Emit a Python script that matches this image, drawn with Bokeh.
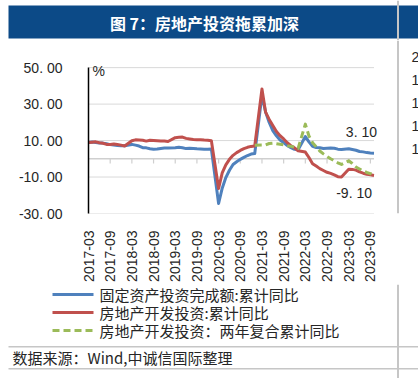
import math
from bokeh.plotting import figure
from bokeh.layouts import column, row
from bokeh.models import FixedTicker, Label, Range1d
from bokeh.core.properties import value
from bokeh.embed import file_html
from bokeh.resources import INLINE

# ---------------- data ----------------
title_text = "图 7：房地产投资拖累加深"
source_text = "数据来源：Wind,中诚信国际整理"
series_names = ["固定资产投资完成额:累计同比",
                "房地产开发投资:累计同比",
                "房地产开发投资：两年复合累计同比"]
unit_text = "%"
side_texts = ["2", "1", "1", "1", "1"]   # edge of the neighbouring chart

# monthly (Jan-Feb combined, so no January), 2017-02 .. 2023-09
main_months = [f"{y}-{m:02d}" for y in range(2017, 2024) for m in range(2, 13)
               if not (y == 2023 and m > 9)]

fai_values = [
    8.9, 9.2, 8.9, 8.6, 8.6, 8.3, 7.8, 7.5, 7.3, 7.2, 7.2,          # 2017
    7.9, 7.5, 7.0, 6.1, 6.0, 5.5, 5.3, 5.4, 5.7, 5.9, 5.9,          # 2018
    6.1, 6.3, 6.1, 5.6, 5.8, 5.7, 5.5, 5.4, 5.2, 5.2, 5.4,          # 2019
    -24.5, -16.1, -10.3, -6.3, -3.1, -1.6, -0.3, 0.8, 1.8, 2.6, 2.9,  # 2020
    35.0, 25.6, 19.9, 15.4, 12.6, 10.3, 8.9, 7.3, 6.1, 5.2, 4.9,    # 2021
    12.2, 9.3, 6.8, 6.2, 6.1, 5.7, 5.8, 5.9, 5.8, 5.3, 5.1,         # 2022
    5.5, 5.1, 4.7, 4.0, 3.8, 3.4, 3.2, 3.1,                         # 2023
]
re_values = [
    8.9, 9.1, 9.3, 8.8, 8.5, 7.9, 7.9, 8.1, 7.8, 7.5, 7.0,
    9.9, 10.4, 10.3, 10.2, 9.7, 10.2, 10.1, 9.9, 9.7, 9.7, 9.5,
    11.6, 11.8, 11.9, 11.2, 10.9, 10.6, 10.5, 10.5, 10.3, 10.2, 9.9,
    -16.3, -7.7, -3.3, -0.3, 1.9, 3.4, 4.6, 5.6, 6.3, 6.8, 7.0,
    38.3, 25.6, 21.6, 18.3, 15.0, 12.7, 10.9, 8.8, 7.2, 6.0, 4.4,
    3.7, 0.7, -2.7, -4.0, -5.4, -6.4, -7.4, -8.0, -8.8, -9.8, -10.0,
    -5.7, -5.8, -6.2, -7.2, -7.9, -8.5, -8.8, -9.1,
]
two_year_months = main_months[main_months.index("2020-12"):]
two_year_values = [
    7.5,
    7.6, 7.6, 8.4, 8.6, 8.2, 8.0, 7.7, 7.2, 6.8, 6.4, 5.7,
    19.0, 12.5, 8.8, 6.6, 4.3, 2.7, 1.3, 0.0, -1.1, -2.2, -3.1,
    -1.1, -2.6, -4.5, -5.6, -6.7, -7.5, -8.1, -8.8,
]

x_tick_labels = ["2017-03", "2017-09", "2018-03", "2018-09", "2019-03", "2019-09",
                 "2020-03", "2020-09", "2021-03", "2021-09", "2022-03", "2022-09",
                 "2023-03", "2023-09"]
y_ticks = [-30, -10, 10, 30, 50]
y_tick_labels = ["-30. 00", "-10. 00", "10. 00", "30. 00", "50. 00"]

# ---------------- helpers ----------------
# Cumulative values are period-end figures: a month's value sits at the end of that month,
# so the tick "YYYY-MM" marks the end of the previous month.
def month_pos(s):
    y, m = int(s[:4]), int(s[5:7])
    return (y - 2017) * 12 + (m - 2)

def tick_pos(s):
    y, m = int(s[:4]), int(s[5:7])
    return (y - 2017) * 12 + (m - 3)

x_main = [month_pos(s) for s in main_months]
x_two = [month_pos(s) for s in two_year_months]
x_ticks = [tick_pos(s) for s in x_tick_labels]

BLUE, RED, GREEN = "#4F81BD", "#C0504D", "#9BBB59"
NAVY = "#0c4a87"
RULE = "#c6c6c6"
GRID = "#d9d9d9"
CJK = "Noto Sans CJK SC"
LAT = "Liberation Sans"
TXT = "#262626"
DASH = "7 4"

PAGE_W = 418
TOP_H, MID_H, BOT_H = 40, 244, 94
SIDE_W = 22
MAIN_W = PAGE_W - SIDE_W

def blank(w, h, y0, x0=0):
    """Decoration figure whose data space equals page pixels (y downwards)."""
    f = figure(width=w, height=h, output_backend="svg", toolbar_location=None,
               x_range=Range1d(x0, x0 + w), y_range=Range1d(y0 + h, y0),
               x_axis_type=None, y_axis_type=None,
               min_border=0, min_border_left=0, min_border_right=0,
               min_border_top=0, min_border_bottom=0)
    f.grid.visible = False
    f.outline_line_color = None
    f.background_fill_color = "white"
    f.border_fill_color = "white"
    return f

def vrule(f, y0, y1):
    f.quad(left=[396.5], right=[398.5], top=[y0], bottom=[y1],
           fill_color=RULE, line_color=None)

# ---------------- title band ----------------
pt = blank(PAGE_W, TOP_H, 0)
pt.quad(left=[8], right=[PAGE_W], top=[5], bottom=[38], fill_color=NAVY, line_color=None)
vrule(pt, 0, TOP_H)
pt.add_layout(Label(x=204, y=22, text=title_text, text_align="center",
                    text_baseline="middle", text_font=CJK, text_font_size="16px",
                    text_font_style="bold", text_color="white"))

# ---------------- main chart ----------------
FRAME_L, FRAME_R = 88, MAIN_W           # frame extends to right edge (labels not clipped)
PX_PER_MONTH = 3.614
PX_PER_UNIT = 1.834
Y50_PAGE = 67.3
y_top = y_ticks[-1] + (Y50_PAGE - TOP_H) / PX_PER_UNIT
frame_h = (y_top - y_ticks[0]) * PX_PER_UNIT
x_end = x_main[0] + (FRAME_R - FRAME_L) / PX_PER_MONTH

p = figure(width=MAIN_W, height=MID_H, output_backend="svg", toolbar_location=None,
           x_range=Range1d(x_main[0], x_end), y_range=Range1d(y_ticks[0], y_top),
           min_border_left=FRAME_L, min_border_right=MAIN_W - FRAME_R, min_border_top=0,
           min_border_bottom=int(round(MID_H - frame_h)))
p.outline_line_color = None
p.background_fill_color = "white"
p.border_fill_color = "white"
p.xgrid.visible = False
p.ygrid.visible = False

p.yaxis.ticker = FixedTicker(ticks=y_ticks)
p.yaxis.bounds = (y_ticks[0], y_ticks[-1])
p.yaxis.major_label_overrides = {t: l for t, l in zip(y_ticks, y_tick_labels)}
p.yaxis.axis_line_color = "black"
p.yaxis.axis_line_width = 1.5
p.yaxis.major_tick_line_color = None
p.yaxis.minor_tick_line_color = None
p.yaxis.major_label_standoff = 20
p.yaxis.major_label_text_font = LAT
p.yaxis.major_label_text_font_size = "14px"
p.yaxis.major_label_text_color = TXT

p.xaxis.ticker = FixedTicker(ticks=x_ticks)
p.xaxis.major_label_overrides = {t: l for t, l in zip(x_ticks, x_tick_labels)}
p.xaxis.axis_line_color = None
p.xaxis.major_tick_line_color = None
p.xaxis.minor_tick_line_color = None
p.xaxis.major_label_orientation = math.pi / 2
p.xaxis.major_label_standoff = 11
p.xaxis.major_label_text_font = LAT
p.xaxis.major_label_text_font_size = "14px"
p.xaxis.major_label_text_color = TXT

# horizontal gridlines across the data span
n = len(y_ticks)
p.segment(x0=[x_main[0]] * n, x1=[x_main[-1]] * n, y0=y_ticks, y1=y_ticks,
          line_color=GRID, line_width=1)
# zero line with tick marks below it
p.segment(x0=[x_main[0]], x1=[x_main[-1]], y0=[0], y1=[0], line_color="#cfcfcf",
          line_width=1.5)
p.segment(x0=x_ticks, y0=[0] * len(x_ticks), x1=x_ticks, y1=[-2.6] * len(x_ticks),
          line_color="#cfcfcf", line_width=1.2)

p.line(x_main, fai_values, line_color=BLUE, line_width=3, line_join="round")
p.line(x_main, re_values, line_color=RED, line_width=3, line_join="round")
p.line(x_two, two_year_values, line_color=GREEN, line_width=3, line_dash=DASH,
       line_join="round")

def fmt(v):
    return f"{v:.2f}".replace(".", ". ")

p.add_layout(Label(x=x_main[-1], y=fai_values[-1], text=fmt(fai_values[-1]),
                   x_offset=3, y_offset=21, text_align="right", text_baseline="middle",
                   text_font=LAT, text_font_size="14px", text_color=TXT))
p.add_layout(Label(x=x_main[-1], y=re_values[-1], text=fmt(re_values[-1]),
                   x_offset=-2, y_offset=-18, text_align="right", text_baseline="middle",
                   text_font=LAT, text_font_size="14px", text_color=TXT))
p.add_layout(Label(x=x_main[0], y=y_ticks[-1], text=unit_text, x_offset=4, y_offset=-3,
                   text_align="left", text_baseline="middle",
                   text_font=LAT, text_font_size="14px", text_color=TXT))

# ---------------- right edge strip ----------------
ps = blank(SIDE_W, MID_H, TOP_H, x0=MAIN_W)
vrule(ps, TOP_H, TOP_H + MID_H)
for i, t in enumerate(side_texts):
    ps.add_layout(Label(x=411, y=63 + i * 32.5, text=t, text_align="left",
                        text_baseline="middle", text_font=LAT, text_font_size="14px",
                        text_color=TXT))

# ---------------- legend + source ----------------
Y_BOT = TOP_H + MID_H
pb = blank(PAGE_W, BOT_H, Y_BOT)
legend_rows = [294, 312, 330]
legend_styles = [(BLUE, "solid"), (RED, "solid"), (GREEN, DASH)]
for yy, (col, dash) in zip(legend_rows, legend_styles):
    pb.segment(x0=[52], x1=[93], y0=[yy], y1=[yy], line_color=col, line_width=3,
               line_dash=dash)
pb.text(x=[99] * 3, y=legend_rows, text=series_names, text_align="left",
        text_baseline="middle", text_font=value(CJK), text_font_size="15px",
        text_color=TXT)
pb.quad(left=[8, 8], right=[PAGE_W, PAGE_W], top=[345.5, 367.5], bottom=[347, 369],
        fill_color=RULE, line_color=None)
vrule(pb, Y_BOT, Y_BOT + BOT_H)
pb.add_layout(Label(x=12, y=357, text=source_text, text_align="left",
                    text_baseline="middle", text_font=CJK, text_font_size="15px",
                    text_color=TXT))

layout = column(pt, row(p, ps, spacing=0), pb, spacing=0)
open("out.html", "w").write(file_html(layout, INLINE))
